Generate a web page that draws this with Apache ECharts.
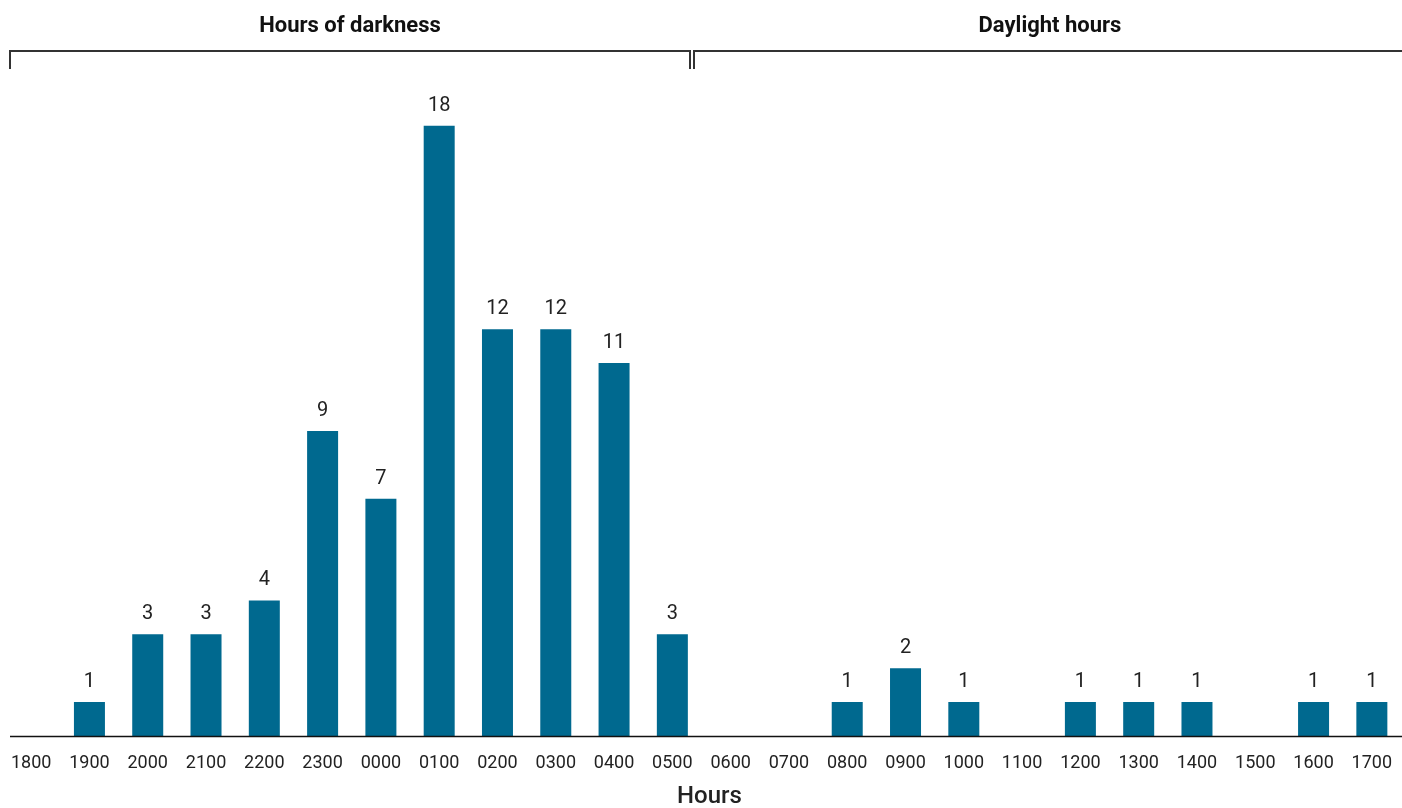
<!DOCTYPE html>
<html>
<head>
<meta charset="utf-8">
<script src="https://cdn.jsdelivr.net/npm/echarts@6/dist/echarts.min.js"></script>
<style>
html,body{margin:0;padding:0;background:#fff;overflow:hidden;}
#chart{width:1402px;height:808px;}
</style>
</head>
<body>
<div id="chart"></div>
<script>
const hours = ['1800','1900','2000','2100','2200','2300','0000','0100','0200','0300','0400','0500',
               '0600','0700','0800','0900','1000','1100','1200','1300','1400','1500','1600','1700'];
const counts = [0,1,3,3,4,9,7,18,12,12,11,3,0,0,1,2,1,0,1,1,1,0,1,1];
const groupLabels = ['Hours of darkness','Daylight hours'];
const axisTitle = 'Hours';

const chart = echarts.init(document.getElementById('chart'), null, {renderer:'canvas', width:1402, height:808});
const font = 'Roboto, "Noto Sans", sans-serif';
const lineCol = '#333333';

chart.setOption({
  animation:false,
  backgroundColor:'#ffffff',
  grid:{left:2, width:1399, top:58, height:678, containLabel:false, outerBoundsMode:'none'},
  xAxis:{
    type:'category',
    data:hours,
    axisLine:{show:false},
    axisTick:{show:false},
    axisLabel:{color:'#222', fontSize:18, fontFamily:font, margin:18, interval:0},
    name:axisTitle,
    nameLocation:'middle',
    nameGap:49,
    nameTextStyle:{color:'#222', fontSize:24, fontWeight:500, fontFamily:font, padding:[0,0,0,16]}
  },
  yAxis:{
    type:'value', min:0, max:20,
    show:false,
    splitLine:{show:false}
  },
  series:[{
    type:'bar',
    data:counts,
    barWidth:31,
    itemStyle:{color:'#00698f'},
    label:{
      show:true, position:'top', distance:10,
      color:'#222', fontSize:20, fontFamily:font,
      formatter:p => p.value === 0 ? '' : String(p.value)
    }
  }],
  graphic:[
    {type:'line', shape:{x1:10,y1:736.5,x2:1402,y2:736.5}, style:{stroke:'#111',lineWidth:1.5}, z:10},
    {type:'polyline', shape:{points:[[10,69],[10,51],[690,51],[690,69]]}, style:{stroke:lineCol,lineWidth:2,fill:null}},
    {type:'polyline', shape:{points:[[694,69],[694,51],[1402,51]]}, style:{stroke:lineCol,lineWidth:2,fill:null}},
    {type:'text', x:350, y:26, style:{text:groupLabels[0], fill:'#111', font:'bold 22px ' + font, textAlign:'center', textVerticalAlign:'middle'}},
    {type:'text', x:1050, y:26, style:{text:groupLabels[1], fill:'#111', font:'bold 22px ' + font, textAlign:'center', textVerticalAlign:'middle'}}
  ]
});
</script>
</body>
</html>
